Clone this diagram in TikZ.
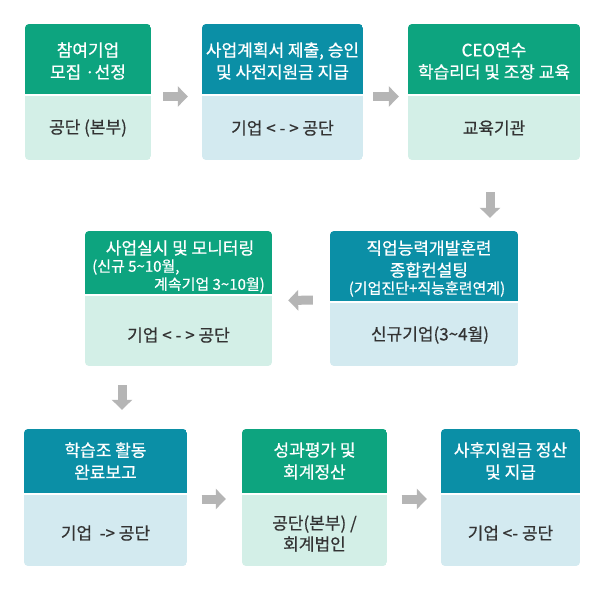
\documentclass[tikz,border=0pt]{standalone}
\usepackage{fontspec}
\setmainfont{Noto Sans CJK KR}[FakeBold=0.6]
\usetikzlibrary{arrows.meta,fit}
\definecolor{hgreen}{HTML}{0DA47F}
\definecolor{hteal}{HTML}{0B8FA6}
\definecolor{bgreen}{HTML}{D3EFE7}
\definecolor{bblue}{HTML}{D3EAF0}
\definecolor{agray}{HTML}{B5B5B5}
\definecolor{txtgray}{HTML}{333333}
\newcommand\flowbox[8]{%
  \begin{scope}
    \clip[rounded corners=4pt] (#2,#3) rectangle (#4,#5);
    \fill[#8] (#2,#3) rectangle (#4,#5);
    \fill[#7] (#2,#3) rectangle (#4,#6);
    \fill[white] (#2,#6) rectangle (#4,#6+2);
  \end{scope}
  \node[fit={(#2,#3) (#4,#5)}, inner sep=0pt] (#1) {};
}
\begin{document}
\begin{tikzpicture}[x=1pt,y=-1pt,
  htext/.style={text=white, align=center, inner sep=0pt, font=\fontsize{17}{22}\selectfont},
  hsmall/.style={text=white, align=center, inner sep=0pt, font=\fontsize{15}{18}\selectfont},
  btext/.style={text=txtgray, align=center, inner sep=0pt, font=\fontsize{17}{21}\selectfont},
  flowarrow/.style={draw=agray, line width=9pt, -{Triangle[length=10pt,width=20pt]}}]
\useasboundingbox[fill=white] (0,0) rectangle (605,597);
% row 1
\flowbox{b1}{25}{24}{151}{160}{93.5}{hgreen}{bgreen}
\flowbox{b2}{202}{24}{363}{160}{93.5}{hteal}{bblue}
\flowbox{b3}{408}{24}{580}{160}{93.5}{hgreen}{bgreen}
% row 2
\flowbox{b4}{85}{231}{272}{366}{294}{hgreen}{bgreen}
\flowbox{b5}{330}{231}{518}{366}{301}{hteal}{bblue}
% row 3
\flowbox{b6}{24}{429}{187}{566}{493}{hteal}{bblue}
\flowbox{b7}{242}{429}{387}{566}{493}{hgreen}{bgreen}
\flowbox{b8}{441}{429}{580}{566}{493}{hteal}{bblue}
% texts
\node[htext] (b1h) at (88,61) {참여기업\\모집 ·선정};
\node[btext] (b1b) at (88,128) {공단 (본부)};
\node[htext] (b2h) at (282.5,61) {사업계획서 제출, 승인\\및 사전지원금 지급};
\node[btext] (b2b) at (282.5,128) {기업 < - > 공단};
\node[htext] (b3h) at (494,61) {CEO연수\\학습리더 및 조장 교육};
\node[btext] (b3b) at (494,128) {교육기관};
\node[htext] (b4ha) at (180,248) {사업실시 및 모니터링};
\node[hsmall, anchor=west] (b4hb) at (92,267) {(신규 5\textasciitilde10월,};
\node[hsmall, anchor=east] (b4hc) at (265,285) {계속기업 3\textasciitilde10월)};
\node[btext] (b4b) at (178.5,335) {기업 < - > 공단};
\node[htext] (b5h) at (429,259) {직업능력개발훈련\\종합컨설팅};
\node[hsmall] (b5hc) at (427,289) {(기업진단+직능훈련연계)};
\node[btext] (b5b) at (430,335) {신규기업(3\textasciitilde4월)};
\node[htext] (b6h) at (105.5,461) {학습조 활동\\완료보고};
\node[btext] (b6b) at (105.5,533) {기업\ \ -> 공단};
\node[htext] (b7h) at (314.5,461) {성과평가 및\\회계정산};
\node[btext] (b7b) at (314.5,533.5) {공단(본부) /\\회계법인};
\node[htext] (b8h) at (510.5,461) {사후지원금 정산\\및 지급};
\node[btext] (b8b) at (510.5,533) {기업 <- 공단};
% arrows
\coordinate (dxa) at (490,0);
\coordinate (dxb) at (122,0);
\draw[flowarrow, shorten <=12pt, shorten >=14pt] ([yshift=-4.5pt]b1.east) -- ([yshift=-4.5pt]b2.west);
\draw[flowarrow, shorten <=10pt, shorten >=9pt] ([yshift=-4.5pt]b2.east) -- ([yshift=-4.5pt]b3.west);
\draw[flowarrow, shorten <=32pt, shorten >=13pt] (b3.south -| dxa) -- (b5.north -| dxa);
\draw[flowarrow, shorten <=17pt, shorten >=16pt] ([yshift=-1.5pt]b5.west) -- ([yshift=-2pt]b4.east);
\draw[flowarrow, shorten <=19pt, shorten >=19pt] (b4.south -| dxb) -- (b6.north -| dxb);
\draw[flowarrow, shorten <=14.5pt, shorten >=16pt] ([yshift=-1.5pt]b6.east) -- ([yshift=-1.5pt]b7.west);
\draw[flowarrow, shorten <=14.5pt, shorten >=14pt] ([yshift=-1.5pt]b7.east) -- ([yshift=-1.5pt]b8.west);
\end{tikzpicture}
\end{document}
